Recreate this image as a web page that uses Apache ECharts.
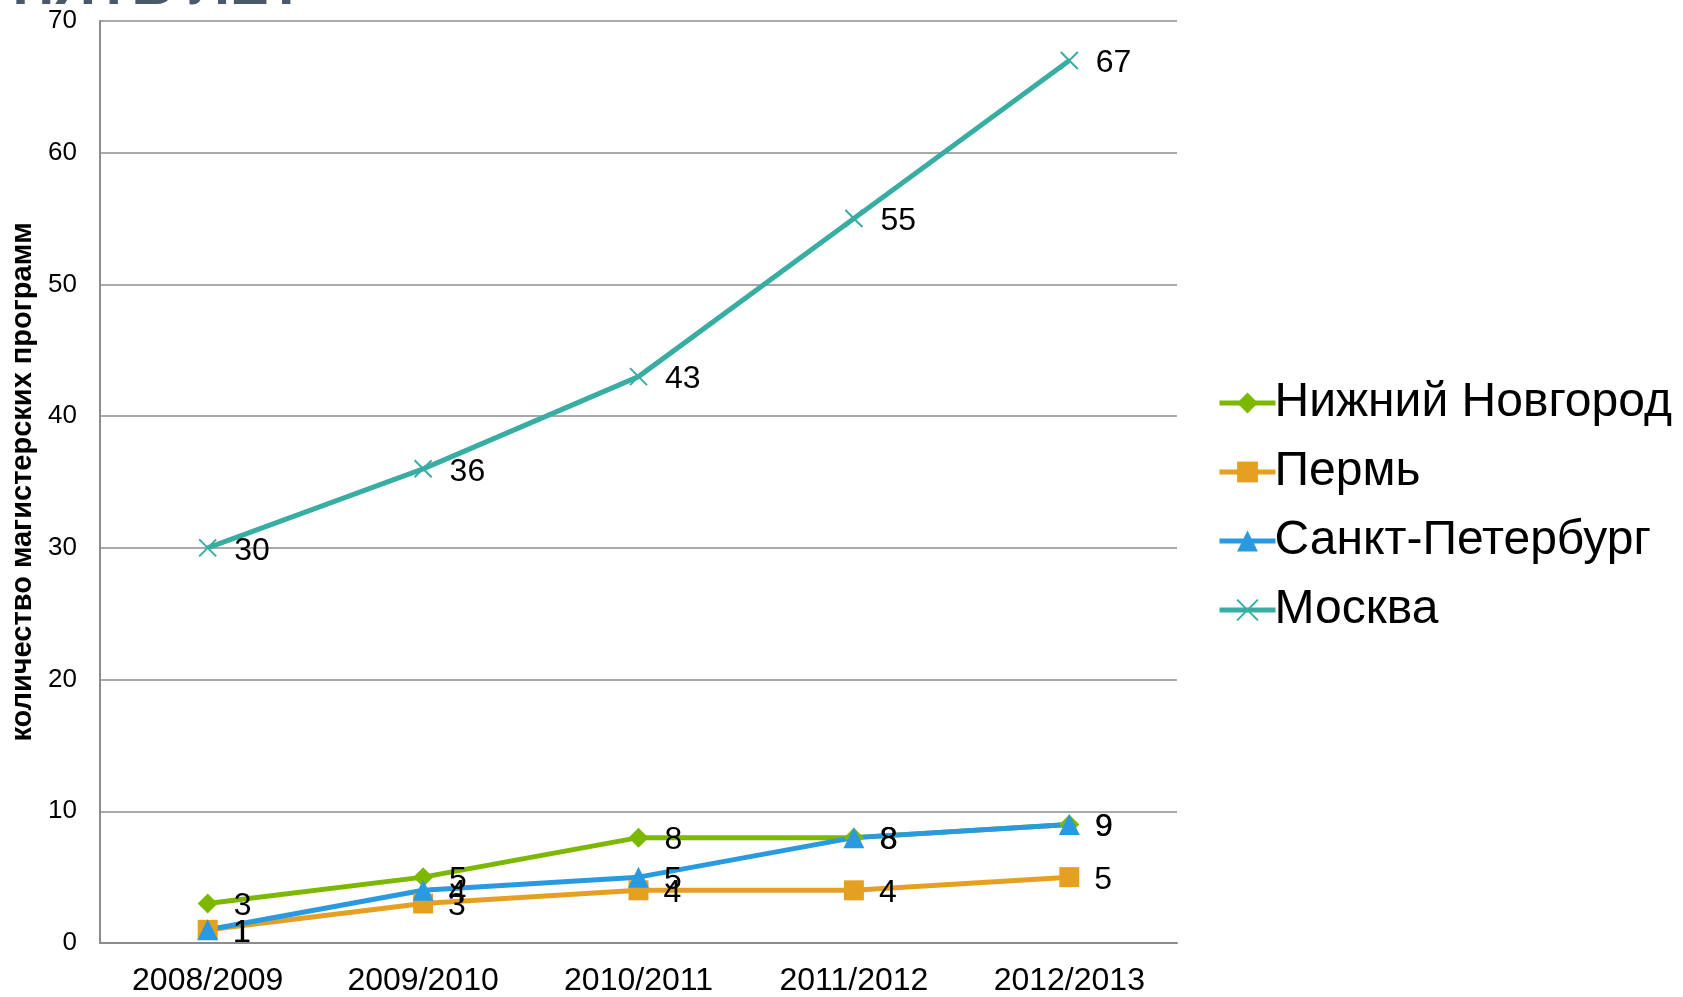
<!DOCTYPE html>
<html>
<head>
<meta charset="utf-8">
<script src="https://cdn.jsdelivr.net/npm/echarts@6/dist/echarts.min.js"></script>
<style>
html,body{margin:0;padding:0;background:#fff;}
#chart{width:1683px;height:997px;}
</style>
</head>
<body>
<div id="chart"></div>
<script>
const categories = ['2008/2009', '2009/2010', '2010/2011', '2011/2012', '2012/2013'];
const seriesNames = ['Нижний Новгород', 'Пермь', 'Санкт-Петербург', 'Москва'];
const nizhny = [3, 5, 8, 8, 9];
const perm = [1, 3, 4, 4, 5];
const spb = [1, 4, 5, 8, 9];
const moscow = [30, 36, 43, 55, 67];
const yTitle = 'количество магистерских программ';
const titleFragment = 'ЗА ПЯТЬ ЛЕТ';

const colors = ['#7db800', '#e5a021', '#2a9ae0', '#38ada2'];
const crossPath = 'path://M0,0L10,10M10,0L0,10';

function mk(name, data, color, symbol, size, dist) {
  return {
    name: name, type: 'line', data: data,
    symbol: symbol, symbolSize: size,
    lineStyle: {color: color, width: 5},
    itemStyle: symbol === crossPath ? {color: color, borderColor: color, borderWidth: 2} : {color: color},
    label: {show: true, position: 'right', distance: dist, offset: [0, 3], color: '#000',
      fontFamily: 'Liberation Sans', fontSize: 32},
    emphasis: {disabled: true},
    animation: false
  };
}

const chart = echarts.init(document.getElementById('chart'), null, {renderer: 'canvas'});
chart.setOption({
  animation: false,
  backgroundColor: '#fff',
  graphic: {
    elements: [{
      type: 'text', x: 304, y: 17, z: 100,
      style: {text: titleFragment, fill: '#4a586b', fontSize: 58, fontWeight: 'bold',
        fontFamily: 'Liberation Sans', lineHeight: 58,
        align: 'right', verticalAlign: 'bottom'}
    }]
  },
  grid: {left: 100, right: 506, top: 21, bottom: 54, containLabel: false, outerBoundsMode: 'none'},
  legend: {
    orient: 'vertical', left: 1212, top: 374, itemWidth: 56, itemHeight: 26,
    itemGap: 21,
    lineStyle: {width: 5},
    textStyle: {fontFamily: 'Liberation Sans', fontSize: 48, color: '#000', padding: [0,0,0,-6]},
    data: seriesNames
  },
  xAxis: {
    type: 'category', data: categories, boundaryGap: true,
    axisLine: {lineStyle: {color: '#8c8c8c', width: 2}},
    axisTick: {show: false},
    axisLabel: {color: '#000', fontFamily: 'Liberation Sans', fontSize: 32, margin: 22}
  },
  yAxis: {
    type: 'value', min: 0, max: 70, interval: 10,
    name: yTitle, nameLocation: 'middle', nameGap: 60, nameRotate: 90,
    nameTextStyle: {fontFamily: 'Liberation Sans', fontWeight: 'bold', fontSize: 29, color: '#000'},
    axisLine: {show: true, lineStyle: {color: '#8c8c8c', width: 2}},
    axisTick: {show: false},
    splitLine: {lineStyle: {color: '#8c8c8c', width: 1.5}},
    axisLabel: {color: '#000', fontFamily: 'Liberation Sans', fontSize: 26, margin: 23}
  },
  series: [
    mk(seriesNames[0], nizhny, colors[0], 'diamond', 20, 16),
    mk(seriesNames[1], perm, colors[1], 'rect', 20, 15),
    mk(seriesNames[2], spb, colors[2], 'triangle', 21, 15),
    mk(seriesNames[3], moscow, colors[3], crossPath, 17, 17)
  ]
});
</script>
</body>
</html>
